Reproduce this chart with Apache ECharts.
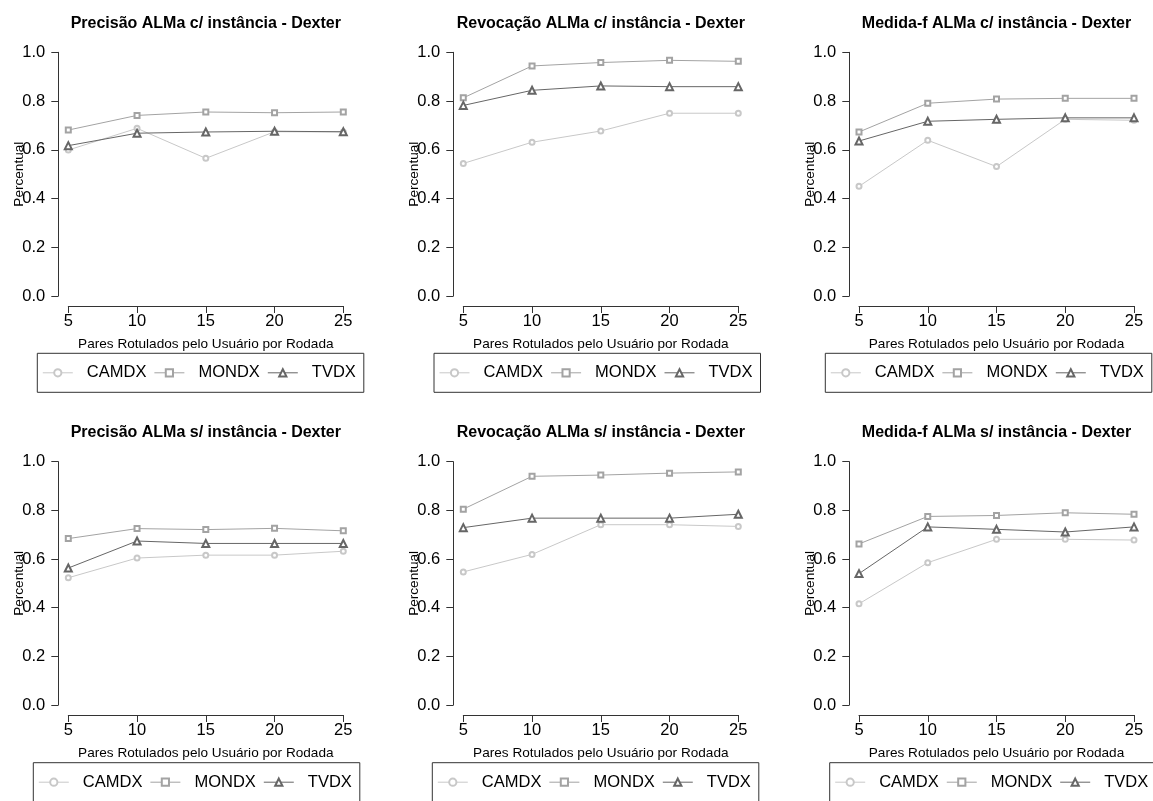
<!DOCTYPE html>
<html>
<head>
<meta charset="utf-8">
<script src="https://cdn.jsdelivr.net/npm/echarts@6/dist/echarts.min.js"></script>
<style>
html,body{margin:0;padding:0;background:#fff;}
#c{width:1153px;height:801px;}
</style>
</head>
<body>
<div id="c"></div>
<script>
const xValues = [5, 10, 15, 20, 25];
const seriesNames = ['CAMDX', 'MONDX', 'TVDX'];
const titles = [
  'Precisão ALMa c/ instância - Dexter',
  'Revocação ALMa c/ instância - Dexter',
  'Medida-f ALMa c/ instância - Dexter',
  'Precisão ALMa s/ instância - Dexter',
  'Revocação ALMa s/ instância - Dexter',
  'Medida-f ALMa s/ instância - Dexter'
];
const xAxisTitle = 'Pares Rotulados pelo Usuário por Rodada';
const yAxisTitle = 'Percentual';

// Precisão c/ instância
const precC_CAMDX = [0.599, 0.688, 0.565, 0.674, 0.673];
const precC_MONDX = [0.681, 0.741, 0.755, 0.752, 0.755];
const precC_TVDX  = [0.617, 0.668, 0.673, 0.676, 0.674];
// Revocação c/ instância
const revC_CAMDX = [0.544, 0.631, 0.677, 0.750, 0.750];
const revC_MONDX = [0.813, 0.944, 0.958, 0.967, 0.963];
const revC_TVDX  = [0.782, 0.844, 0.862, 0.859, 0.859];
// Medida-f c/ instância
const fmC_CAMDX = [0.450, 0.639, 0.531, 0.725, 0.721];
const fmC_MONDX = [0.673, 0.791, 0.808, 0.811, 0.811];
const fmC_TVDX  = [0.636, 0.717, 0.725, 0.731, 0.731];
// Precisão s/ instância
const precS_CAMDX = [0.523, 0.604, 0.616, 0.616, 0.632];
const precS_MONDX = [0.684, 0.725, 0.721, 0.726, 0.716];
const precS_TVDX  = [0.563, 0.674, 0.664, 0.664, 0.664];
// Revocação s/ instância
const revS_CAMDX = [0.547, 0.619, 0.741, 0.741, 0.734];
const revS_MONDX = [0.805, 0.940, 0.945, 0.953, 0.958];
const revS_TVDX  = [0.729, 0.768, 0.768, 0.768, 0.784];
// Medida-f s/ instância
const fmS_CAMDX = [0.416, 0.585, 0.681, 0.681, 0.678];
const fmS_MONDX = [0.662, 0.775, 0.779, 0.790, 0.784];
const fmS_TVDX  = [0.540, 0.732, 0.722, 0.711, 0.732];

const panels = [
  [precC_CAMDX, precC_MONDX, precC_TVDX],
  [revC_CAMDX, revC_MONDX, revC_TVDX],
  [fmC_CAMDX, fmC_MONDX, fmC_TVDX],
  [precS_CAMDX, precS_MONDX, precS_TVDX],
  [revS_CAMDX, revS_MONDX, revS_TVDX],
  [fmS_CAMDX, fmS_MONDX, fmS_TVDX]
];

const FONT = '"Liberation Sans", Arial, sans-serif';
const colors = ['#c8c8c8', '#a3a3a3', '#666666'];
const symbols = ['emptyCircle', 'emptyRect', 'emptyTriangle'];
const symbolSizes = [5, 5, 7];

const colLeft = [68.3, 463.3, 859];
const yOff = [10, 10, 9.7];
const rowTop = [52.3, 461.7];
const rowH = [243.7, 243.3];
const plotW = 275;
const legendLeft = [[37.3, 434, 825.3], [33.3, 432.3, 829.7]];
const legendTop = [353.3, 762.7];
const titleTop = [11, 420];

const grid = [], xAxis = [], yAxis = [], series = [], title = [], legend = [];
for (let i = 0; i < 6; i++) {
  const r = Math.floor(i / 3), c = i % 3;
  grid.push({left: colLeft[c], top: rowTop[r], width: plotW, height: rowH[r], containLabel: false});
  title.push({
    text: titles[i], left: colLeft[c] + plotW / 2 - 5, top: titleTop[r], textAlign: 'center',
    textStyle: {fontFamily: FONT, fontSize: 16, fontWeight: 'bold', color: '#000'}
  });
  xAxis.push({
    type: 'value', gridIndex: i, min: 5, max: 25, interval: 5, offset: 10,
    name: xAxisTitle, nameLocation: 'middle', nameGap: 31, nameMoveOverlap: false,
    nameTextStyle: {fontFamily: FONT, fontSize: 13.6, color: '#000'},
    axisLine: {show: true, onZero: false, lineStyle: {color: '#333', width: 1}},
    axisTick: {show: true, length: 7, lineStyle: {color: '#333'}},
    axisLabel: {fontFamily: FONT, fontSize: 16.5, color: '#000', margin: 7},
    splitLine: {show: false}
  });
  yAxis.push({
    type: 'value', gridIndex: i, min: 0, max: 1, interval: 0.2, offset: yOff[c],
    name: yAxisTitle, nameLocation: 'middle', nameGap: 32, nameRotate: 90, nameMoveOverlap: false,
    nameTextStyle: {fontFamily: FONT, fontSize: 13.6, color: '#000'},
    axisLine: {show: true, lineStyle: {color: '#333', width: 1}},
    axisTick: {show: true, length: 7, lineStyle: {color: '#333'}},
    axisLabel: {fontFamily: FONT, fontSize: 16.5, color: '#000', margin: 13,
      formatter: v => v.toFixed(1)},
    splitLine: {show: false}
  });
  for (let s = 0; s < 3; s++) {
    series.push({
      name: seriesNames[s], type: 'line', xAxisIndex: i, yAxisIndex: i,
      data: xValues.map((x, j) => [x, panels[i][s][j]]),
      symbol: symbols[s], symbolSize: symbolSizes[s],
      lineStyle: {color: colors[s], width: 1},
      itemStyle: {color: colors[s], borderWidth: 1},
      z: 2 + s
    });
  }
  legend.push({
    data: seriesNames, left: legendLeft[r][c], top: legendTop[r], width: 340,
    orient: 'horizontal', itemGap: 7.5, itemWidth: 30, itemHeight: 9,
    padding: [11, 8, 11, 5], borderColor: '#333', borderWidth: 1, borderRadius: 0,
    selectedMode: false,
    itemStyle: {borderWidth: 1},
    lineStyle: {width: 1},
    textStyle: {fontFamily: FONT, fontSize: 16.5, color: '#000', padding: [0, 0, 0, 9]}
  });
}

const chart = echarts.init(document.getElementById('c'), null, {renderer: 'canvas'});
chart.setOption({
  animation: false, backgroundColor: '#fff',
  title, grid, xAxis, yAxis, series, legend
});
</script>
</body>
</html>
